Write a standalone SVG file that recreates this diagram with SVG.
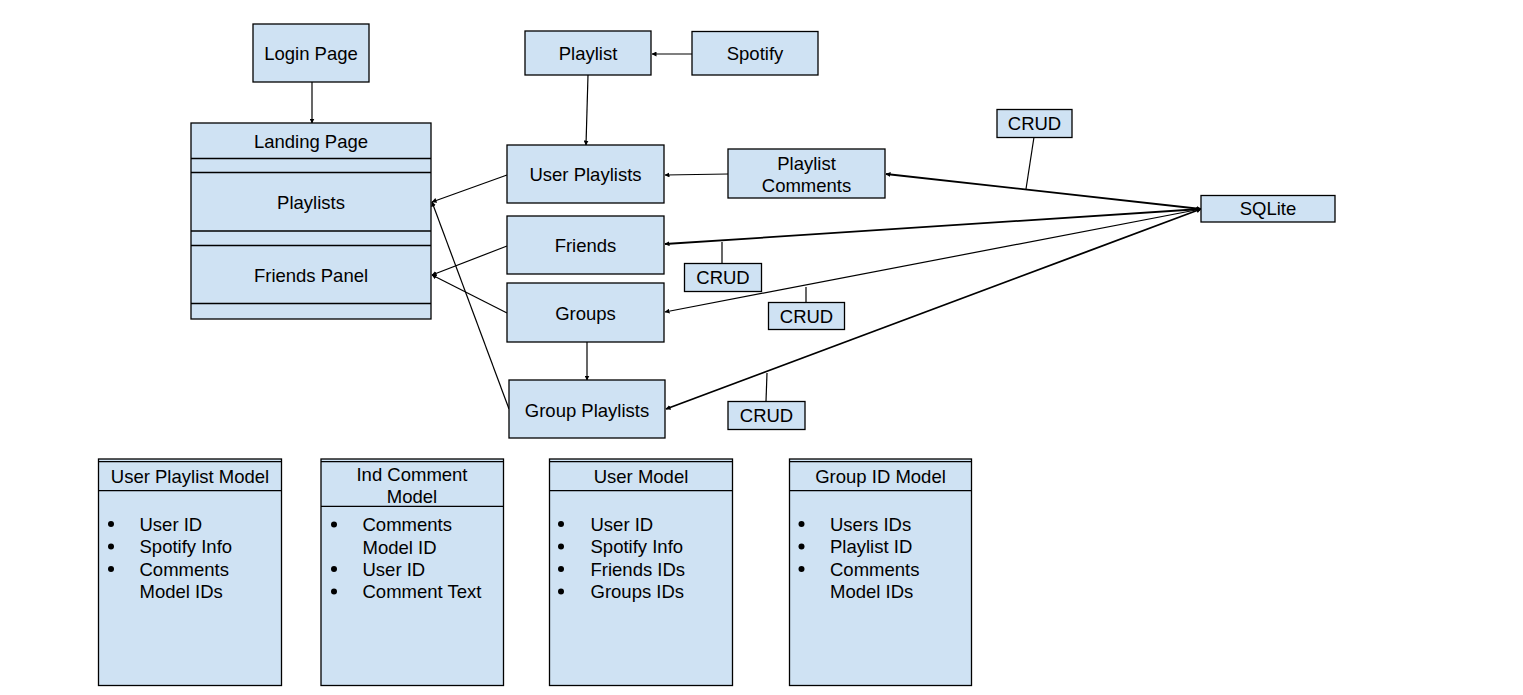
<svg xmlns="http://www.w3.org/2000/svg" width="1523" height="695" viewBox="0 0 1523 695">
<style>
.box{fill:#cfe2f3;stroke:#000;stroke-width:1.3}
.sep{stroke:#000;stroke-width:1.3;fill:none}
text{font-family:"Liberation Sans",Arial,sans-serif;font-size:18.5px;fill:#000}
.c{text-anchor:middle}
.ln{stroke:#000;stroke-width:1.2;fill:none}
.lnb{stroke:#000;stroke-width:1.8;fill:none}
.bul{fill:#000}
</style>
<defs>
<marker id="ah" viewBox="0 0 10 10" refX="9" refY="5" markerWidth="5" markerHeight="5" markerUnits="userSpaceOnUse" orient="auto-start-reverse">
<path d="M0,0 L10,5 L0,10 z" fill="#000"/>
</marker>
</defs>
<rect width="1523" height="695" fill="#fff"/>
<g id="connectors">
<line class="ln" x1="312" y1="82" x2="312" y2="123" marker-end="url(#ah)"/>
<line class="ln" x1="692" y1="54" x2="652" y2="54" marker-end="url(#ah)"/>
<line class="ln" x1="588" y1="75" x2="586" y2="145" marker-end="url(#ah)"/>
<line class="ln" x1="507" y1="175" x2="432" y2="202" marker-end="url(#ah)"/>
<line class="ln" x1="507" y1="246" x2="432" y2="275" marker-end="url(#ah)"/>
<line class="ln" x1="507" y1="313" x2="432" y2="275" marker-end="url(#ah)"/>
<line class="ln" x1="509" y1="409" x2="432" y2="202" marker-end="url(#ah)"/>
<line class="ln" x1="728" y1="174" x2="665" y2="175" marker-end="url(#ah)"/>
<line class="ln" x1="587" y1="342" x2="587" y2="380" marker-end="url(#ah)"/>
<line class="lnb" x1="886" y1="174" x2="1201" y2="209" marker-start="url(#ah)" marker-end="url(#ah)"/>
<line class="lnb" x1="665" y1="244" x2="1201" y2="209" marker-start="url(#ah)" marker-end="url(#ah)"/>
<line class="ln" x1="665" y1="312" x2="1201" y2="209" marker-start="url(#ah)" marker-end="url(#ah)"/>
<line class="lnb" x1="666" y1="409" x2="1201" y2="209" marker-start="url(#ah)" marker-end="url(#ah)"/>
<line class="ln" x1="1034" y1="137" x2="1026" y2="189"/>
<line class="ln" x1="722" y1="242" x2="722" y2="263"/>
<line class="ln" x1="806" y1="287" x2="806" y2="302"/>
<line class="ln" x1="767" y1="373" x2="766" y2="401"/>
</g>
<g id="login-page">
<rect class="box" x="253" y="24" width="116" height="58"/>
<text class="c" x="311" y="60">Login Page</text>
</g>
<g id="landing-page">
<rect class="box" x="191" y="123" width="240" height="196"/>
<line class="sep" x1="191" y1="158.5" x2="431" y2="158.5"/>
<line class="sep" x1="191" y1="172.5" x2="431" y2="172.5"/>
<line class="sep" x1="191" y1="231" x2="431" y2="231"/>
<line class="sep" x1="191" y1="245.5" x2="431" y2="245.5"/>
<line class="sep" x1="191" y1="303.5" x2="431" y2="303.5"/>
<text class="c" x="311" y="148">Landing Page</text>
<text class="c" x="311" y="209">Playlists</text>
<text class="c" x="311" y="281.5">Friends Panel</text>
</g>
<g id="playlist">
<rect class="box" x="525" y="31" width="126" height="44"/>
<text class="c" x="588" y="60">Playlist</text>
</g>
<g id="spotify">
<rect class="box" x="692" y="31.5" width="126" height="43.5"/>
<text class="c" x="755" y="60">Spotify</text>
</g>
<g id="user-playlists">
<rect class="box" x="507" y="145" width="157" height="58"/>
<text class="c" x="585.5" y="181">User Playlists</text>
</g>
<g id="friends">
<rect class="box" x="507" y="216" width="157" height="58"/>
<text class="c" x="585.5" y="252">Friends</text>
</g>
<g id="groups">
<rect class="box" x="507" y="283" width="157" height="59"/>
<text class="c" x="585.5" y="319.5">Groups</text>
</g>
<g id="group-playlists">
<rect class="box" x="509" y="380" width="156" height="58"/>
<text class="c" x="587" y="416.5">Group Playlists</text>
</g>
<g id="playlist-comments">
<rect class="box" x="728" y="149" width="157" height="49"/>
<text class="c" x="806.5" y="170">Playlist</text>
<text class="c" x="806.5" y="191.5">Comments</text>
</g>
<g id="sqlite">
<rect class="box" x="1201" y="195.5" width="134" height="26.5"/>
<text class="c" x="1268" y="215">SQLite</text>
</g>
<g id="crud-comments">
<rect class="box" x="997" y="109.5" width="75" height="28"/>
<text class="c" x="1034.5" y="130">CRUD</text>
</g>
<g id="crud-friends">
<rect class="box" x="684.5" y="263.5" width="77" height="28"/>
<text class="c" x="723" y="284">CRUD</text>
</g>
<g id="crud-groups">
<rect class="box" x="768.5" y="302.5" width="76" height="27"/>
<text class="c" x="806.5" y="323">CRUD</text>
</g>
<g id="crud-group-playlists">
<rect class="box" x="728" y="401.5" width="77" height="28"/>
<text class="c" x="766.5" y="422">CRUD</text>
</g>
<g id="user-playlist-model">
<rect class="box" x="98.5" y="459" width="183" height="226.5"/>
<line class="sep" x1="98.5" y1="461.7" x2="281.5" y2="461.7"/>
<line class="sep" x1="98.5" y1="490.7" x2="281.5" y2="490.7"/>
<text class="c" x="190" y="483">User Playlist Model</text>
<circle class="bul" cx="111" cy="524" r="3"/>
<circle class="bul" cx="111" cy="546.5" r="3"/>
<circle class="bul" cx="111" cy="569" r="3"/>
<text x="139.5" y="530.5">User ID</text>
<text x="139.5" y="553">Spotify Info</text>
<text x="139.5" y="575.5">Comments</text>
<text x="139.5" y="598">Model IDs</text>
</g>
<g id="ind-comment-model">
<rect class="box" x="321" y="459" width="182.5" height="226.5"/>
<line class="sep" x1="321" y1="461.7" x2="503.5" y2="461.7"/>
<line class="sep" x1="321" y1="506.3" x2="503.5" y2="506.3"/>
<text class="c" x="412" y="480.5">Ind Comment</text>
<text class="c" x="412" y="502.5">Model</text>
<circle class="bul" cx="334" cy="524.5" r="3"/>
<circle class="bul" cx="334" cy="569" r="3"/>
<circle class="bul" cx="334" cy="591.5" r="3"/>
<text x="362.5" y="531">Comments</text>
<text x="362.5" y="553.5">Model ID</text>
<text x="362.5" y="575.5">User ID</text>
<text x="362.5" y="598">Comment Text</text>
</g>
<g id="user-model">
<rect class="box" x="549.5" y="459" width="183" height="226.5"/>
<line class="sep" x1="549.5" y1="461.7" x2="732.5" y2="461.7"/>
<line class="sep" x1="549.5" y1="490.7" x2="732.5" y2="490.7"/>
<text class="c" x="641" y="483">User Model</text>
<circle class="bul" cx="561" cy="524" r="3"/>
<circle class="bul" cx="561" cy="546.5" r="3"/>
<circle class="bul" cx="561" cy="569" r="3"/>
<circle class="bul" cx="561" cy="591.5" r="3"/>
<text x="590.5" y="530.5">User ID</text>
<text x="590.5" y="553">Spotify Info</text>
<text x="590.5" y="575.5">Friends IDs</text>
<text x="590.5" y="598">Groups IDs</text>
</g>
<g id="group-id-model">
<rect class="box" x="789.5" y="459" width="182" height="226.5"/>
<line class="sep" x1="789.5" y1="461.7" x2="971.5" y2="461.7"/>
<line class="sep" x1="789.5" y1="490.7" x2="971.5" y2="490.7"/>
<text class="c" x="880.5" y="483">Group ID Model</text>
<circle class="bul" cx="801.5" cy="524" r="3"/>
<circle class="bul" cx="801.5" cy="546.5" r="3"/>
<circle class="bul" cx="801.5" cy="569" r="3"/>
<text x="830" y="530.5">Users IDs</text>
<text x="830" y="553">Playlist ID</text>
<text x="830" y="575.5">Comments</text>
<text x="830" y="598">Model IDs</text>
</g>
</svg>
